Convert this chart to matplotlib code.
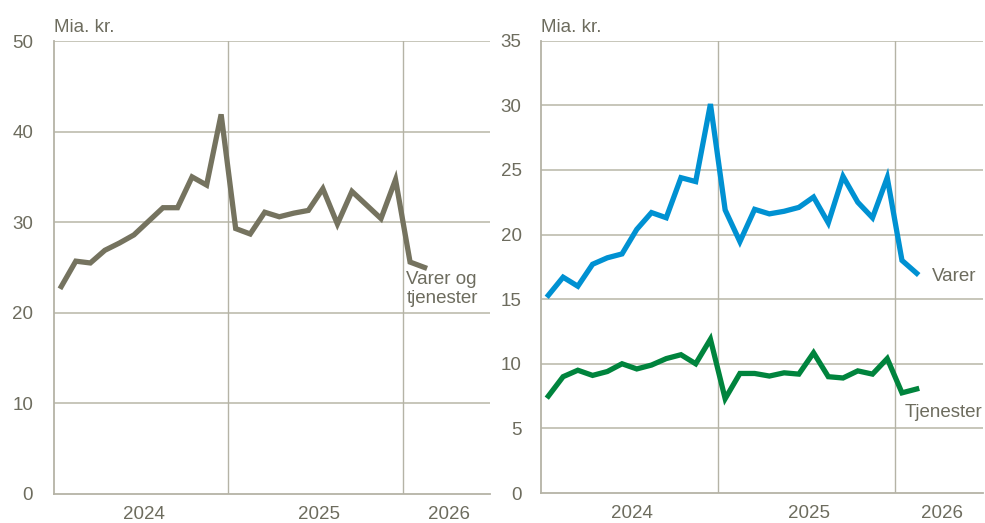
import matplotlib
matplotlib.use("Agg")
import matplotlib.pyplot as plt
import numpy as np

plt.rcParams['font.family'] = ['Liberation Sans', 'DejaVu Sans']

# Monthly data, Jan 2024 - Feb 2026 (Mia. kr.)
months = list(range(26))
total = [22.9, 25.7, 25.5, 26.9, 27.7, 28.6, 30.1, 31.6, 31.6, 35.0, 34.1, 41.9,
         29.3, 28.7, 31.1, 30.6, 31.0, 31.3, 33.7, 29.8, 33.4, 31.9, 30.4, 34.7,
         25.6, 25.0]
varer = [15.3, 16.7, 16.0, 17.7, 18.2, 18.5, 20.4, 21.7, 21.3, 24.4, 24.1, 30.1,
         21.9, 19.45, 21.95, 21.6, 21.8, 22.1, 22.9, 20.9, 24.5, 22.5, 21.3, 24.4,
         18.0, 17.0]
tjenester = [7.5, 9.0, 9.5, 9.1, 9.4, 10.0, 9.6, 9.9, 10.4, 10.7, 10.0, 11.9,
             7.3, 9.25, 9.25, 9.05, 9.3, 9.2, 10.85, 9.0, 8.9, 9.45, 9.2, 10.4,
             7.75, 8.05]
year_labels = ['2024', '2025', '2026']
year_label_pos = [5.7, 17.7, 26.7]
year_bounds = [11.5, 23.5]

grey_line = '#75735f'
blue = '#0091d2'
green = '#00843d'
grid_c = '#c3c1b4'
spine_c = '#b5b3a6'
text_c = '#6d6c5e'

fig = plt.figure(figsize=(9.85, 5.23), dpi=100)
ax1 = fig.add_axes([54/985, 1-494/523, 436/985, 453/523])
ax2 = fig.add_axes([541/985, 1-493/523, 442/985, 452.3/523])

def style(ax, ymax, step, pad):
    ax.set_xlim(-0.5, 29.5)
    ax.set_ylim(0, ymax)
    ax.set_yticks(np.arange(0, ymax + 0.01, step))
    ax.yaxis.set_major_formatter(matplotlib.ticker.FuncFormatter(lambda v, p: f"{int(v)}"))
    ax.set_xticks(year_label_pos)
    ax.set_xticklabels(year_labels)
    ax.tick_params(axis='both', length=0, labelsize=13.5, colors=text_c)
    ax.tick_params(axis='y', pad=pad)
    ax.tick_params(axis='x', pad=8.5)
    for s in ['top', 'right']:
        ax.spines[s].set_visible(False)
    for s in ['left', 'bottom']:
        ax.spines[s].set_color(spine_c)
        ax.spines[s].set_linewidth(1.3)
    for v in np.arange(step, ymax + 0.01, step):
        ax.axhline(v, color=grid_c, lw=1.3, zorder=0)
    for b in year_bounds:
        ax.axvline(b, color=spine_c, lw=1.0, zorder=0)
    ax.text(0.0, 1.03, 'Mia. kr.', transform=ax.transAxes, ha='left', va='center',
            fontsize=13.5, color=text_c)

style(ax1, 50, 10, 15)
style(ax2, 35, 5, 14)

ax1.plot(months, total, color=grey_line, lw=3.8, solid_joinstyle='miter', zorder=3)
ax1.text(23.75, 22.6, 'Varer og\ntjenester', ha='left', va='center', fontsize=13.5,
         color=text_c, linespacing=1.15)

ax2.plot(months, varer, color=blue, lw=3.8, solid_joinstyle='miter', zorder=3)
ax2.plot(months, tjenester, color=green, lw=3.8, solid_joinstyle='miter', zorder=3)
ax2.text(26.0, 16.75, 'Varer', ha='left', va='center', fontsize=13.5, color=text_c)
ax2.text(24.2, 6.2, 'Tjenester', ha='left', va='center', fontsize=13.5, color=text_c)

fig.savefig('out.png', dpi=100)
